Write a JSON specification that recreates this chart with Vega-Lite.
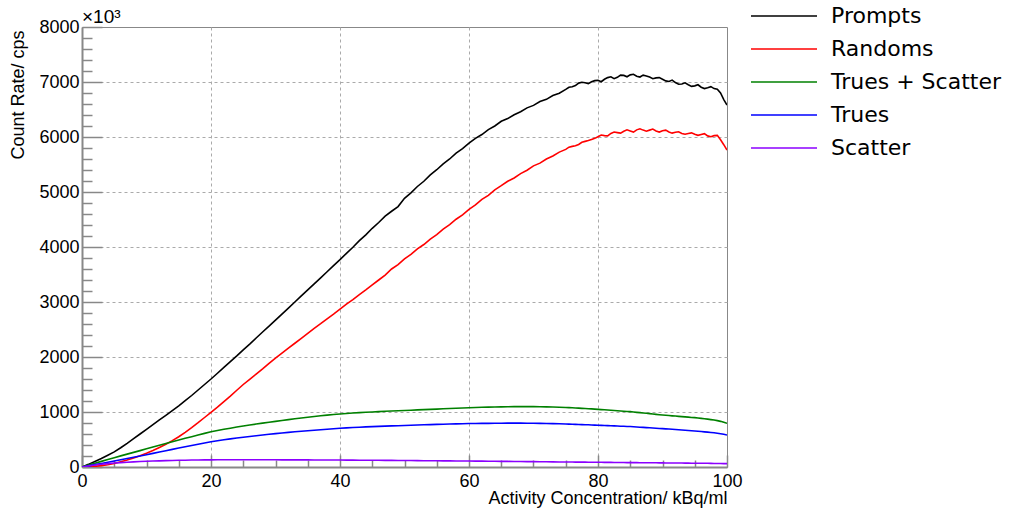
{
"$schema": "https://vega.github.io/schema/vega-lite/v6.json",
"width": 645, "height": 440,
"autosize": {"type": "none"},
"padding": {"left": 82, "top": 27, "right": 283, "bottom": 42},
"background": "white",
"encoding": {
  "x": {"field": "x", "type": "quantitative",
    "scale": {"domain": [0, 100], "nice": false, "zero": false},
    "axis": {
      "values": [0,5,10,15,20,25,30,35,40,45,50,55,60,65,70,75,80,85,90,95,100],
      "labelExpr": "datum.value % 20 === 0 ? datum.label : ''",
      "format": "d",
      "title": "Activity Concentration/ kBq/ml",
      "titleFont": "Liberation Sans", "titleFontSize": 18, "titleFontWeight": "normal", "titleColor": "black",
      "titleAnchor": null, "titleAlign": "right", "titleBaseline": "alphabetic", "titleX": 645, "titleY": 36,
      "labelFont": "Liberation Sans", "labelFontSize": 18, "labelColor": "black", "labelPadding": 17,
      "labelFlush": false, "labelOverlap": false, "labelBound": false,
      "tickSize": {"condition": {"test": "datum.value % 20 === 0", "value": -12}, "value": -7},
      "tickColor": "#888888", "tickWidth": 1.5,
      "domainColor": "#888888", "domainWidth": 2,
      "grid": true, "gridDash": [3, 3], "gridColor": "#aaaaaa", "gridWidth": 1,
      "gridOpacity": {"condition": {"test": "datum.value % 20 === 0 && datum.value > 0 && datum.value < 100", "value": 1}, "value": 0}
    }},
  "y": {"field": "rate", "type": "quantitative",
    "scale": {"domain": [0, 8000], "nice": false},
    "axis": {
      "values": [0,200,400,600,800,1000,1200,1400,1600,1800,2000,2200,2400,2600,2800,3000,3200,3400,3600,3800,4000,4200,4400,4600,4800,5000,5200,5400,5600,5800,6000,6200,6400,6600,6800,7000,7200,7400,7600,7800,8000],
      "labelExpr": "datum.value % 1000 === 0 ? format(datum.value, 'd') : ''",
      "title": "Count Rate/ cps",
      "titleFont": "Liberation Sans", "titleFontSize": 18, "titleFontWeight": "normal", "titleColor": "black",
      "titleAnchor": null, "titleAngle": 270, "titleAlign": "right", "titleBaseline": "middle", "titleX": -64, "titleY": 3,
      "labelFont": "Liberation Sans", "labelFontSize": 18, "labelColor": "black", "labelPadding": 23,
      "labelFlush": false, "labelOverlap": false, "labelBound": false,
      "tickSize": {"condition": {"test": "datum.value % 1000 === 0", "value": -20}, "value": -10},
      "tickColor": "#888888", "tickWidth": 1.5,
      "domainColor": "#888888", "domainWidth": 2,
      "grid": true, "gridDash": [3, 3], "gridColor": "#aaaaaa", "gridWidth": 1,
      "gridOpacity": {"condition": {"test": "datum.value % 1000 === 0 && datum.value > 0 && datum.value < 8000", "value": 1}, "value": 0}
    }}
},
"layer": [
{
"data": {"values": [
{"x":0,"Prompts":0,"Randoms":0,"Trues + Scatter":0,"Trues":0,"Scatter":0},
{"x":1,"Prompts":48,"Randoms":4,"Trues + Scatter":34,"Trues":21,"Scatter":18},
{"x":2,"Prompts":100,"Randoms":12,"Trues + Scatter":68,"Trues":43,"Scatter":35},
{"x":3,"Prompts":155,"Randoms":25,"Trues + Scatter":102,"Trues":65,"Scatter":50},
{"x":4,"Prompts":214,"Randoms":42,"Trues + Scatter":136,"Trues":87,"Scatter":62},
{"x":5,"Prompts":275,"Randoms":65,"Trues + Scatter":170,"Trues":109,"Scatter":72},
{"x":6,"Prompts":350,"Randoms":95,"Trues + Scatter":202,"Trues":132,"Scatter":80},
{"x":7,"Prompts":430,"Randoms":127,"Trues + Scatter":234,"Trues":155,"Scatter":87},
{"x":8,"Prompts":515,"Randoms":163,"Trues + Scatter":266,"Trues":178,"Scatter":93},
{"x":9,"Prompts":600,"Randoms":205,"Trues + Scatter":298,"Trues":201,"Scatter":99},
{"x":10,"Prompts":685,"Randoms":250,"Trues + Scatter":330,"Trues":224,"Scatter":104},
{"x":11,"Prompts":770,"Randoms":300,"Trues + Scatter":362,"Trues":248,"Scatter":108},
{"x":12,"Prompts":855,"Randoms":355,"Trues + Scatter":394,"Trues":272,"Scatter":112},
{"x":13,"Prompts":940,"Randoms":415,"Trues + Scatter":426,"Trues":296,"Scatter":116},
{"x":14,"Prompts":1025,"Randoms":480,"Trues + Scatter":458,"Trues":320,"Scatter":119},
{"x":15,"Prompts":1110,"Randoms":550,"Trues + Scatter":490,"Trues":344,"Scatter":122},
{"x":16,"Prompts":1205,"Randoms":630,"Trues + Scatter":521,"Trues":368,"Scatter":124},
{"x":17,"Prompts":1300,"Randoms":715,"Trues + Scatter":551,"Trues":391,"Scatter":126},
{"x":18,"Prompts":1400,"Randoms":805,"Trues + Scatter":581,"Trues":414,"Scatter":128},
{"x":19,"Prompts":1500,"Randoms":900,"Trues + Scatter":611,"Trues":437,"Scatter":129},
{"x":20,"Prompts":1600,"Randoms":995,"Trues + Scatter":640,"Trues":460,"Scatter":130},
{"x":21,"Prompts":1705,"Randoms":1090,"Trues + Scatter":663,"Trues":478,"Scatter":131},
{"x":22,"Prompts":1810,"Randoms":1190,"Trues + Scatter":685,"Trues":495,"Scatter":131},
{"x":23,"Prompts":1915,"Randoms":1290,"Trues + Scatter":706,"Trues":511,"Scatter":132},
{"x":24,"Prompts":2020,"Randoms":1395,"Trues + Scatter":726,"Trues":527,"Scatter":132},
{"x":25,"Prompts":2130,"Randoms":1500,"Trues + Scatter":745,"Trues":542,"Scatter":132},
{"x":26,"Prompts":2235,"Randoms":1595,"Trues + Scatter":763,"Trues":556,"Scatter":132},
{"x":27,"Prompts":2345,"Randoms":1690,"Trues + Scatter":781,"Trues":569,"Scatter":132},
{"x":28,"Prompts":2455,"Randoms":1785,"Trues + Scatter":798,"Trues":582,"Scatter":131},
{"x":29,"Prompts":2560,"Randoms":1885,"Trues + Scatter":814,"Trues":595,"Scatter":131},
{"x":30,"Prompts":2670,"Randoms":1980,"Trues + Scatter":830,"Trues":607,"Scatter":131},
{"x":31,"Prompts":2780,"Randoms":2070,"Trues + Scatter":846,"Trues":618,"Scatter":130},
{"x":32,"Prompts":2890,"Randoms":2160,"Trues + Scatter":861,"Trues":629,"Scatter":130},
{"x":33,"Prompts":3000,"Randoms":2250,"Trues + Scatter":876,"Trues":640,"Scatter":130},
{"x":34,"Prompts":3110,"Randoms":2340,"Trues + Scatter":891,"Trues":650,"Scatter":129},
{"x":35,"Prompts":3220,"Randoms":2430,"Trues + Scatter":905,"Trues":660,"Scatter":129},
{"x":36,"Prompts":3330,"Randoms":2520,"Trues + Scatter":918,"Trues":669,"Scatter":128},
{"x":37,"Prompts":3440,"Randoms":2605,"Trues + Scatter":931,"Trues":678,"Scatter":128},
{"x":38,"Prompts":3550,"Randoms":2695,"Trues + Scatter":943,"Trues":687,"Scatter":127},
{"x":39,"Prompts":3660,"Randoms":2780,"Trues + Scatter":954,"Trues":696,"Scatter":127},
{"x":40,"Prompts":3770,"Randoms":2870,"Trues + Scatter":965,"Trues":705,"Scatter":126},
{"x":41,"Prompts":3885,"Randoms":2960,"Trues + Scatter":973,"Trues":711,"Scatter":125},
{"x":42,"Prompts":3995,"Randoms":3045,"Trues + Scatter":981,"Trues":717,"Scatter":125},
{"x":43,"Prompts":4115,"Randoms":3135,"Trues + Scatter":988,"Trues":723,"Scatter":124},
{"x":44,"Prompts":4220,"Randoms":3220,"Trues + Scatter":995,"Trues":729,"Scatter":123},
{"x":45,"Prompts":4340,"Randoms":3310,"Trues + Scatter":1001,"Trues":734,"Scatter":122},
{"x":46,"Prompts":4445,"Randoms":3400,"Trues + Scatter":1007,"Trues":739,"Scatter":122},
{"x":47,"Prompts":4560,"Randoms":3490,"Trues + Scatter":1013,"Trues":743,"Scatter":121},
{"x":48,"Prompts":4650,"Randoms":3600,"Trues + Scatter":1018,"Trues":747,"Scatter":120},
{"x":49,"Prompts":4735,"Randoms":3680,"Trues + Scatter":1023,"Trues":751,"Scatter":119},
{"x":50,"Prompts":4885,"Randoms":3785,"Trues + Scatter":1028,"Trues":755,"Scatter":118},
{"x":51,"Prompts":4985,"Randoms":3865,"Trues + Scatter":1033,"Trues":759,"Scatter":117},
{"x":52,"Prompts":5100,"Randoms":3965,"Trues + Scatter":1038,"Trues":763,"Scatter":116},
{"x":53,"Prompts":5195,"Randoms":4045,"Trues + Scatter":1043,"Trues":767,"Scatter":115},
{"x":54,"Prompts":5310,"Randoms":4145,"Trues + Scatter":1048,"Trues":771,"Scatter":114},
{"x":55,"Prompts":5405,"Randoms":4225,"Trues + Scatter":1053,"Trues":775,"Scatter":113},
{"x":56,"Prompts":5510,"Randoms":4325,"Trues + Scatter":1058,"Trues":778,"Scatter":112},
{"x":57,"Prompts":5600,"Randoms":4405,"Trues + Scatter":1063,"Trues":781,"Scatter":111},
{"x":58,"Prompts":5705,"Randoms":4505,"Trues + Scatter":1068,"Trues":784,"Scatter":110},
{"x":59,"Prompts":5790,"Randoms":4585,"Trues + Scatter":1073,"Trues":787,"Scatter":109},
{"x":60,"Prompts":5890,"Randoms":4685,"Trues + Scatter":1078,"Trues":790,"Scatter":108},
{"x":61,"Prompts":5975,"Randoms":4765,"Trues + Scatter":1082,"Trues":792,"Scatter":107},
{"x":62,"Prompts":6045,"Randoms":4865,"Trues + Scatter":1086,"Trues":793,"Scatter":106},
{"x":63,"Prompts":6135,"Randoms":4940,"Trues + Scatter":1089,"Trues":794,"Scatter":105},
{"x":64,"Prompts":6200,"Randoms":5040,"Trues + Scatter":1092,"Trues":795,"Scatter":104},
{"x":65,"Prompts":6285,"Randoms":5115,"Trues + Scatter":1094,"Trues":796,"Scatter":103},
{"x":66,"Prompts":6335,"Randoms":5195,"Trues + Scatter":1096,"Trues":797,"Scatter":102},
{"x":67,"Prompts":6405,"Randoms":5255,"Trues + Scatter":1097,"Trues":797,"Scatter":100},
{"x":68,"Prompts":6460,"Randoms":5335,"Trues + Scatter":1098,"Trues":797,"Scatter":99},
{"x":69,"Prompts":6530,"Randoms":5395,"Trues + Scatter":1098,"Trues":796,"Scatter":98},
{"x":70,"Prompts":6575,"Randoms":5475,"Trues + Scatter":1097,"Trues":795,"Scatter":97},
{"x":71,"Prompts":6645,"Randoms":5525,"Trues + Scatter":1095,"Trues":793,"Scatter":96},
{"x":72,"Prompts":6685,"Randoms":5600,"Trues + Scatter":1093,"Trues":791,"Scatter":95},
{"x":73,"Prompts":6755,"Randoms":5655,"Trues + Scatter":1090,"Trues":788,"Scatter":94},
{"x":74,"Prompts":6795,"Randoms":5725,"Trues + Scatter":1086,"Trues":785,"Scatter":92},
{"x":75,"Prompts":6865,"Randoms":5775,"Trues + Scatter":1082,"Trues":781,"Scatter":91},
{"x":75.5,"Prompts":6905,"Randoms":5815,"Trues + Scatter":1079,"Trues":779,"Scatter":90},
{"x":76,"Prompts":6915,"Randoms":5830,"Trues + Scatter":1076,"Trues":777,"Scatter":90},
{"x":76.5,"Prompts":6935,"Randoms":5840,"Trues + Scatter":1073,"Trues":775,"Scatter":89},
{"x":77,"Prompts":6980,"Randoms":5865,"Trues + Scatter":1070,"Trues":773,"Scatter":89},
{"x":77.5,"Prompts":6995,"Randoms":5905,"Trues + Scatter":1066,"Trues":771,"Scatter":88},
{"x":78,"Prompts":6985,"Randoms":5920,"Trues + Scatter":1063,"Trues":769,"Scatter":88},
{"x":78.5,"Prompts":6970,"Randoms":5935,"Trues + Scatter":1060,"Trues":767,"Scatter":87},
{"x":79,"Prompts":7005,"Randoms":5955,"Trues + Scatter":1056,"Trues":765,"Scatter":87},
{"x":79.5,"Prompts":7025,"Randoms":5975,"Trues + Scatter":1052,"Trues":762,"Scatter":86},
{"x":80,"Prompts":7030,"Randoms":6005,"Trues + Scatter":1048,"Trues":760,"Scatter":86},
{"x":80.5,"Prompts":7005,"Randoms":6035,"Trues + Scatter":1044,"Trues":757,"Scatter":85},
{"x":81,"Prompts":7050,"Randoms":6025,"Trues + Scatter":1040,"Trues":755,"Scatter":85},
{"x":81.5,"Prompts":7080,"Randoms":6020,"Trues + Scatter":1036,"Trues":752,"Scatter":84},
{"x":82,"Prompts":7095,"Randoms":6065,"Trues + Scatter":1032,"Trues":750,"Scatter":84},
{"x":82.5,"Prompts":7060,"Randoms":6090,"Trues + Scatter":1028,"Trues":747,"Scatter":83},
{"x":83,"Prompts":7085,"Randoms":6080,"Trues + Scatter":1023,"Trues":745,"Scatter":83},
{"x":83.5,"Prompts":7125,"Randoms":6070,"Trues + Scatter":1018,"Trues":742,"Scatter":82},
{"x":84,"Prompts":7120,"Randoms":6105,"Trues + Scatter":1014,"Trues":740,"Scatter":81},
{"x":84.5,"Prompts":7095,"Randoms":6130,"Trues + Scatter":1010,"Trues":737,"Scatter":80},
{"x":85,"Prompts":7130,"Randoms":6110,"Trues + Scatter":1006,"Trues":735,"Scatter":80},
{"x":85.5,"Prompts":7140,"Randoms":6090,"Trues + Scatter":1000,"Trues":731,"Scatter":79},
{"x":86,"Prompts":7105,"Randoms":6130,"Trues + Scatter":994,"Trues":728,"Scatter":79},
{"x":86.5,"Prompts":7090,"Randoms":6150,"Trues + Scatter":988,"Trues":724,"Scatter":78},
{"x":87,"Prompts":7125,"Randoms":6125,"Trues + Scatter":982,"Trues":720,"Scatter":78},
{"x":87.5,"Prompts":7110,"Randoms":6105,"Trues + Scatter":976,"Trues":716,"Scatter":77},
{"x":88,"Prompts":7090,"Randoms":6125,"Trues + Scatter":970,"Trues":713,"Scatter":77},
{"x":88.5,"Prompts":7060,"Randoms":6145,"Trues + Scatter":964,"Trues":709,"Scatter":76},
{"x":89,"Prompts":7075,"Randoms":6110,"Trues + Scatter":957,"Trues":705,"Scatter":76},
{"x":89.5,"Prompts":7080,"Randoms":6090,"Trues + Scatter":951,"Trues":701,"Scatter":75},
{"x":90,"Prompts":7050,"Randoms":6115,"Trues + Scatter":945,"Trues":698,"Scatter":75},
{"x":90.5,"Prompts":7020,"Randoms":6125,"Trues + Scatter":940,"Trues":694,"Scatter":74},
{"x":91,"Prompts":7010,"Randoms":6090,"Trues + Scatter":935,"Trues":690,"Scatter":74},
{"x":91.5,"Prompts":7035,"Randoms":6070,"Trues + Scatter":930,"Trues":686,"Scatter":73},
{"x":92,"Prompts":6990,"Randoms":6085,"Trues + Scatter":926,"Trues":682,"Scatter":73},
{"x":92.5,"Prompts":6960,"Randoms":6095,"Trues + Scatter":921,"Trues":677,"Scatter":72},
{"x":93,"Prompts":6965,"Randoms":6065,"Trues + Scatter":916,"Trues":673,"Scatter":72},
{"x":93.5,"Prompts":6985,"Randoms":6050,"Trues + Scatter":911,"Trues":668,"Scatter":71},
{"x":94,"Prompts":6950,"Randoms":6065,"Trues + Scatter":906,"Trues":664,"Scatter":70},
{"x":94.5,"Prompts":6920,"Randoms":6075,"Trues + Scatter":901,"Trues":659,"Scatter":69},
{"x":95,"Prompts":6930,"Randoms":6050,"Trues + Scatter":897,"Trues":655,"Scatter":69},
{"x":95.5,"Prompts":6950,"Randoms":6030,"Trues + Scatter":890,"Trues":650,"Scatter":68},
{"x":96,"Prompts":6905,"Randoms":6045,"Trues + Scatter":884,"Trues":645,"Scatter":68},
{"x":96.5,"Prompts":6880,"Randoms":6060,"Trues + Scatter":877,"Trues":639,"Scatter":67},
{"x":97,"Prompts":6895,"Randoms":6020,"Trues + Scatter":870,"Trues":634,"Scatter":67},
{"x":97.5,"Prompts":6915,"Randoms":6005,"Trues + Scatter":862,"Trues":628,"Scatter":66},
{"x":98,"Prompts":6880,"Randoms":6025,"Trues + Scatter":855,"Trues":622,"Scatter":65},
{"x":98.5,"Prompts":6870,"Randoms":6030,"Trues + Scatter":843,"Trues":613,"Scatter":64},
{"x":99,"Prompts":6800,"Randoms":5950,"Trues + Scatter":830,"Trues":605,"Scatter":63},
{"x":99.5,"Prompts":6680,"Randoms":5860,"Trues + Scatter":812,"Trues":594,"Scatter":62},
{"x":100,"Prompts":6580,"Randoms":5764,"Trues + Scatter":794,"Trues":582,"Scatter":61}
]},
"transform": [{"fold": ["Prompts", "Randoms", "Trues + Scatter", "Trues", "Scatter"], "as": ["series", "rate"]}],
"mark": {"type": "line", "interpolate": "linear", "clip": true},
"encoding": {
  "color": {"field": "series", "type": "nominal",
    "scale": {"domain": ["Prompts", "Randoms", "Trues + Scatter", "Trues", "Scatter"], "range": ["#000000", "#ff0000", "#008000", "#0000ff", "#8b00ff"]},
    "legend": {"orient": "none", "legendX": 691, "legendY": -22, "title": null,
      "symbolType": "M-6.6,0H6.6", "symbolSize": 100, "symbolStrokeWidth": 2,
      "labelFont": "DejaVu Sans", "labelFontSize": 22, "labelColor": "black", "labelOffset": 36,
      "rowPadding": 11, "padding": 0, "labelLimit": 300}},
  "strokeWidth": {"field": "series", "type": "nominal",
    "scale": {"domain": ["Prompts", "Randoms", "Trues + Scatter", "Trues", "Scatter"], "range": [1.6, 1.6, 1.6, 1.6, 2.6]},
    "legend": null}
}
},
{
"data": {"values": [{"x": 0, "rate": 8000, "t": "×10³"}]},
"mark": {"type": "text", "align": "left", "baseline": "alphabetic", "dy": -4, "font": "Liberation Sans", "fontSize": 19, "color": "black"},
"encoding": {
  "text": {"field": "t"}
}
}
],
"config": {"view": {"stroke": "#888888", "strokeWidth": 1}}
}
